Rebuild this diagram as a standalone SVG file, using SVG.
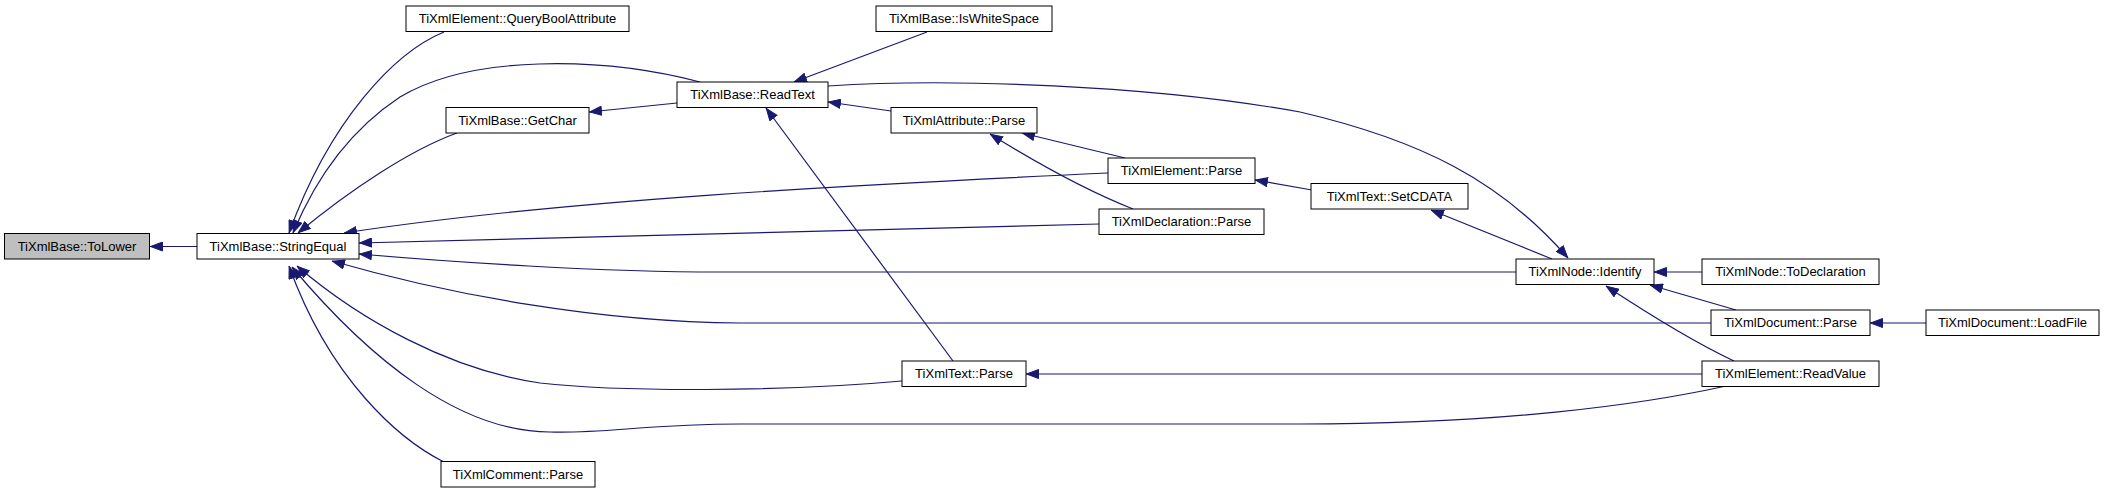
<svg xmlns="http://www.w3.org/2000/svg" width="2105" height="493" viewBox="0 0 2105 493">
<style>
.n rect{fill:#fff;stroke:#000;stroke-width:1}
.n text{font-family:"Liberation Sans",Arial,sans-serif;font-size:13px;text-anchor:middle;fill:#000}
.root rect{fill:#bfbfbf}
#edges path{fill:none;stroke:#191970;stroke-width:1.2;marker-end:url(#ah)}
</style>
<defs>
<marker id="ah" markerUnits="userSpaceOnUse" markerWidth="13" markerHeight="10" viewBox="0 0 13 10" refX="13" refY="5" orient="auto">
<path d="M0.5,0.5 L12.5,5 L0.5,9.5 z" fill="#191970" stroke="#191970" stroke-width="1"/>
</marker>
</defs>
<rect width="2105" height="493" fill="#fff"/>
<g id="edges">
<path d="M197,246.5 L150,246.5"/>
<path d="M444,32 C395,52 330,120 289,233"/>
<path d="M700,82 C600,56 470,55 400,97 C350,130 315,180 293,233"/>
<path d="M457,133 C410,150 350,190 298,233"/>
<path d="M1108,173 C850,185 560,200 344,233"/>
<path d="M1099,224 C800,230 550,236 359,243"/>
<path d="M1516,272 L720,272 C600,272 450,262 359,254"/>
<path d="M1711,323 L740,323 C600,322 450,295 332,261"/>
<path d="M902,381 C780,392 620,392 540,383 C450,370 360,320 297,266"/>
<path d="M1726,386 C1640,405 1500,424 1300,424 L740,424 C650,424 600,434 550,432 C460,432 370,360 292,267"/>
<path d="M444,462 C400,440 330,380 289,266"/>
<path d="M927,32 L794,82"/>
<path d="M677,103 L589,112"/>
<path d="M891,111 L828,102"/>
<path d="M953,361 L766,108"/>
<path d="M828,86 C950,78 1150,85 1300,112 C1420,140 1500,180 1568,258"/>
<path d="M1125,158 L1022,133"/>
<path d="M1133,209 C1090,192 1040,165 990,134"/>
<path d="M1312,190 L1255,180"/>
<path d="M1552,259 L1431,210"/>
<path d="M1702,272 L1654,272"/>
<path d="M1736,310 L1650,285"/>
<path d="M1734,361 C1700,345 1650,315 1606,286"/>
<path d="M1926,323 L1870,323"/>
<path d="M1702,374 L1026,374"/>
</g>
<g id="n_tolower" class="n root"><rect x="4.5" y="233.5" width="145" height="25.5"/><text x="77" y="250.7">TiXmlBase::ToLower</text></g>
<g id="n_stringequal" class="n"><rect x="197" y="233.5" width="162" height="25.5"/><text x="278" y="250.7">TiXmlBase::StringEqual</text></g>
<g id="n_querybool" class="n"><rect x="406" y="6" width="223" height="25.5"/><text x="517.5" y="23.2">TiXmlElement::QueryBoolAttribute</text></g>
<g id="n_getchar" class="n"><rect x="446" y="107.5" width="143" height="25.5"/><text x="517.5" y="124.7">TiXmlBase::GetChar</text></g>
<g id="n_comment" class="n"><rect x="441" y="461.5" width="154" height="25.5"/><text x="518" y="478.7">TiXmlComment::Parse</text></g>
<g id="n_readtext" class="n"><rect x="677" y="82" width="151" height="25.5"/><text x="752.5" y="99.2">TiXmlBase::ReadText</text></g>
<g id="n_iswhitespace" class="n"><rect x="876" y="6" width="176" height="25.5"/><text x="964" y="23.2">TiXmlBase::IsWhiteSpace</text></g>
<g id="n_attrparse" class="n"><rect x="891" y="107.5" width="146" height="25.5"/><text x="964" y="124.7">TiXmlAttribute::Parse</text></g>
<g id="n_textparse" class="n"><rect x="902" y="361" width="124" height="25.5"/><text x="964" y="378.2">TiXmlText::Parse</text></g>
<g id="n_elemparse" class="n"><rect x="1108" y="158" width="147" height="25.5"/><text x="1181.5" y="175.2">TiXmlElement::Parse</text></g>
<g id="n_declparse" class="n"><rect x="1099" y="209" width="165" height="25.5"/><text x="1181.5" y="226.2">TiXmlDeclaration::Parse</text></g>
<g id="n_setcdata" class="n"><rect x="1311" y="183.5" width="157" height="25.5"/><text x="1389.5" y="200.7">TiXmlText::SetCDATA</text></g>
<g id="n_identify" class="n"><rect x="1516" y="259" width="138" height="25.5"/><text x="1585" y="276.2">TiXmlNode::Identify</text></g>
<g id="n_todecl" class="n"><rect x="1702" y="259" width="177" height="25.5"/><text x="1790.5" y="276.2">TiXmlNode::ToDeclaration</text></g>
<g id="n_docparse" class="n"><rect x="1711" y="310" width="159" height="25.5"/><text x="1790.5" y="327.2">TiXmlDocument::Parse</text></g>
<g id="n_readvalue" class="n"><rect x="1702" y="361" width="177" height="25.5"/><text x="1790.5" y="378.2">TiXmlElement::ReadValue</text></g>
<g id="n_loadfile" class="n"><rect x="1926" y="310" width="173" height="25.5"/><text x="2012.5" y="327.2">TiXmlDocument::LoadFile</text></g>
</svg>
